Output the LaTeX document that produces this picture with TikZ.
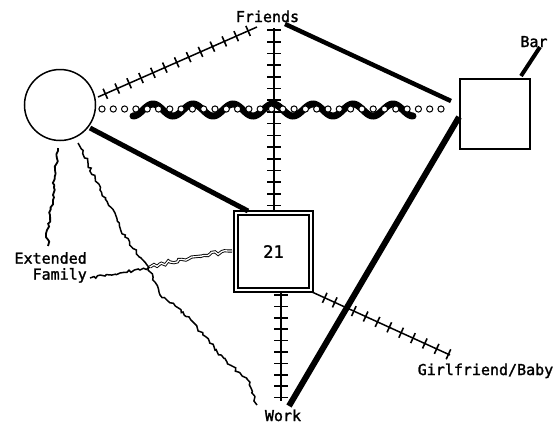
\documentclass[tikz,border=0pt]{standalone}
\usepackage{fontspec}
\newfontfamily\labfont[FakeBold=1.6]{DejaVu Sans Mono}
\usetikzlibrary{decorations.pathmorphing,decorations.markings}
\begin{document}
\begin{tikzpicture}[x=1pt,y=-1pt,
  lab/.style={font=\labfont\fontsize{15}{16}\selectfont, inner sep=0pt},
  thickline/.style={line width=#1},
  thickline/.default=5pt,
  tickmarks/.style args={#1/#2/#3/#4}{postaction={decorate,decoration={markings,
      mark=between positions #1 and #2 step #3 with {\draw[line width=1.6pt] (0,-#4)--(0,#4);}}}},
  jagged/.style={line width=1.8pt, decorate, decoration={random steps, segment length=3pt, amplitude=1.6pt}},
  ringline/.style={decorate, decoration={markings,
      mark=between positions 0 and 1 step 11.3pt with {\draw[line width=1pt, fill=white] (0,0) circle (3.1pt);}}},
  wavy/.style={line width=7pt, line cap=round}
]
\pgfmathsetseed{7}
\useasboundingbox (0,0) rectangle (555,424);

% nodes
\node[draw, circle, line width=1.5pt, minimum size=71pt, inner sep=0pt] (ego) at (60,105) {};
\node[draw, line width=1.5pt, double=white, double distance=2.6pt, minimum width=75pt, minimum height=77pt, inner sep=0pt,
      font=\labfont\fontsize{17}{18}\selectfont] (kid) at (273.5,251.5) {21};
\node[draw, line width=1.3pt, minimum size=70pt, inner sep=0pt] (bar) at (495,114) {};

\node[lab, anchor=base] (friends) at (267.5,22) {Friends};
\node[lab, anchor=base] (work) at (283,421) {Work};
\node[lab, anchor=base] (barlab) at (534,47) {Bar};
\node[lab, anchor=base] (gf) at (485.5,375) {Girlfriend/Baby};
\node[lab, anchor=north east, align=right] (ext) at (87,252) {Extended\\Family};

% connector end points
\coordinate (fA) at (274,28);
\coordinate (kA) at (274,211);
\coordinate (kB) at (281,292);
\coordinate (wA) at (281,401);
\coordinate (eF) at (98,97);
\coordinate (fE) at (257,27);
\coordinate (eK) at (90,128);
\coordinate (kE) at (248,211);
\coordinate (fB) at (285,24);
\coordinate (bF) at (451,101);
\coordinate (wB) at (289,406);
\coordinate (bW) at (459,117);
\coordinate (bL) at (540,47);
\coordinate (bT) at (521,76);
\coordinate (kG) at (312,292);
\coordinate (gK) at (450,355);
\coordinate (eR) at (102,109);
\coordinate (bR) at (448,109);

% hatched lines
\draw[line width=1.8pt, tickmarks={2pt/-2pt/11.7pt/7pt}] (fA) -- (kA);
\draw[line width=1.8pt, tickmarks={3pt/-1pt/11.4pt/7pt}] (kB) -- (wA);
\draw[line width=1.5pt, tickmarks={8pt/-2pt/13pt/5.5pt}] (eF) -- (fE);
\draw[line width=1.5pt, tickmarks={14pt/27pt/11pt/5.5pt}, tickmarks={46pt/152pt/13pt/5.5pt}] (kG) -- (gK);

% thick lines
\draw[thickline] (eK) -- (kE);
\draw[thickline=4.5pt] (fB) -- (bF);
\draw[thickline=6pt] (wB) -- (bW);
\draw[thickline=4pt] (bL) -- (bT);

% wave and rings
\draw[wavy] plot[domain=133:413, samples=220, smooth] (\x, {110 + 6*sin((\x-133)/40*360+90)});
\path[ringline] (eR) -- (bR);

% jagged lines
\draw[jagged] (58,148) -- (55,170) -- (53,195) -- (50,215) -- (47,230) -- (48,246);
\draw[jagged, line width=1.5pt] (78,143) -- (88,163) -- (100,190) -- (115,213) -- (125,237) -- (147,265) -- (160,295)
   -- (183,312) -- (203,335) -- (227,362) -- (247,379) -- (257,405);
\draw[jagged, line width=1.5pt] (90,278) -- (105,276) -- (120,273) -- (140,270) -- (150,267);
\draw[jagged, line width=0.9pt, double=white, double distance=1.3pt] (150,267) -- (170,262) -- (190,258) -- (210,254) -- (232,251);
\end{tikzpicture}
\end{document}
